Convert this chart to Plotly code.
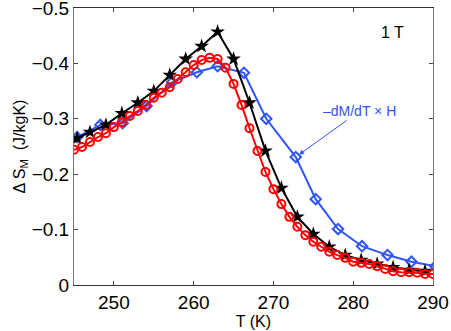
import plotly.graph_objects as go

# black stars (computed entropy change)
t_star = [245.4, 247, 249, 251, 253, 255, 257, 259, 261, 263, 265, 267, 269,
          271, 273, 275, 277, 279, 281, 283, 285, 287, 289]
ds_star = [-0.265, -0.276, -0.289, -0.310, -0.329, -0.350, -0.379, -0.408, -0.431,
           -0.457, -0.408, -0.329, -0.242, -0.175, -0.123, -0.092, -0.069, -0.054,
           -0.045, -0.038, -0.032, -0.027, -0.025]

# red circles
t_circ = list(range(245, 291))
ds_circ = [-0.244, -0.249, -0.258, -0.267, -0.274, -0.285, -0.294, -0.305, -0.314,
           -0.325, -0.338, -0.347, -0.357, -0.372, -0.384, -0.397, -0.406, -0.410,
           -0.408, -0.392, -0.363, -0.325, -0.283, -0.242, -0.204, -0.173, -0.146,
           -0.123, -0.105, -0.090, -0.078, -0.069, -0.060, -0.054, -0.049, -0.042,
           -0.040, -0.038, -0.034, -0.029, -0.025, -0.023, -0.023, -0.022, -0.020,
           -0.020]

# blue diamonds (-dM/dT x H)
t_diam = [245.4, 248.3, 251.1, 254.1, 257.3, 260.4, 263.0, 266.3, 269.1, 272.8,
          275.3, 278.1, 281.1, 284.3, 287.3, 290.3]
ds_diam = [-0.267, -0.289, -0.292, -0.323, -0.366, -0.384, -0.395, -0.383, -0.300,
           -0.231, -0.155, -0.101, -0.070, -0.054, -0.042, -0.034]

x_ticks = [250, 260, 270, 280, 290]
y_ticks = [0, -0.1, -0.2, -0.3, -0.4, -0.5]
y_labels = ["0", "−0.1", "−0.2", "−0.3", "−0.4", "−0.5"]

blue = "#2f55f5"
font = "Liberation Sans, Arial, sans-serif"
tick_font = dict(family=font, size=19, color="black")

fig = go.Figure()
fig.add_trace(go.Scatter(
    x=t_diam, y=ds_diam, mode="lines+markers",
    line=dict(color=blue, width=2),
    marker=dict(symbol="diamond-open", size=8, color=blue, line=dict(width=2)),
))
fig.add_trace(go.Scatter(
    x=t_star, y=ds_star, mode="lines+markers",
    line=dict(color="black", width=2),
    marker=dict(symbol="star", size=11, color="black"),
))
fig.add_trace(go.Scatter(
    x=t_circ, y=ds_circ, mode="lines+markers",
    line=dict(color="#ff0000", width=2),
    marker=dict(symbol="circle-open", size=8, color="#ff0000", line=dict(width=2)),
))

fig.add_annotation(
    xref="paper", yref="paper", x=(392 - 74) / 359, y=1 - (32 - 8) / 277,
    xanchor="center", yanchor="middle",
    text="1 T", showarrow=False, font=dict(size=16, color="black", family=font),
)
fig.add_annotation(
    x=t_diam[9], y=ds_diam[9], xref="x", yref="y",
    text="–dM/dT × H", font=dict(size=14, color=blue, family=font),
    showarrow=True, arrowhead=2, arrowsize=1, arrowwidth=1, arrowcolor=blue,
    ax=64, ay=-46, standoff=4,
)

fig.update_layout(
    width=451, height=331,
    margin=dict(l=74, r=18, t=8, b=46, autoexpand=False),
    paper_bgcolor="white", plot_bgcolor="white",
    showlegend=False,
    font=dict(family=font, size=16, color="black"),
    xaxis=dict(
        range=[245, 290], tickvals=x_ticks, ticks="inside", ticklen=4,
        tickfont=tick_font, ticklabeloverflow="allow",
        showline=True, mirror="ticks", linecolor="#333", linewidth=1,
        showgrid=False, zeroline=False, automargin=False,
        title=dict(text="T (K)", font=dict(size=16), standoff=0),
    ),
    yaxis=dict(
        range=[0, -0.5], tickvals=y_ticks, ticktext=y_labels,
        ticks="inside", ticklen=4,
        tickfont=tick_font, ticklabeloverflow="allow",
        showline=True, mirror="ticks", linecolor="#777", linewidth=1,
        showgrid=False, zeroline=False, automargin=False,
        title=dict(text="Δ S<sub>M</sub>  (J/kgK)", font=dict(size=16), standoff=2),
    ),
)

# the page's default body margin would push the figure off the window
fig.write_html("out.html", config={"displayModeBar": False},
               post_script="document.body.style.margin = '0';")
